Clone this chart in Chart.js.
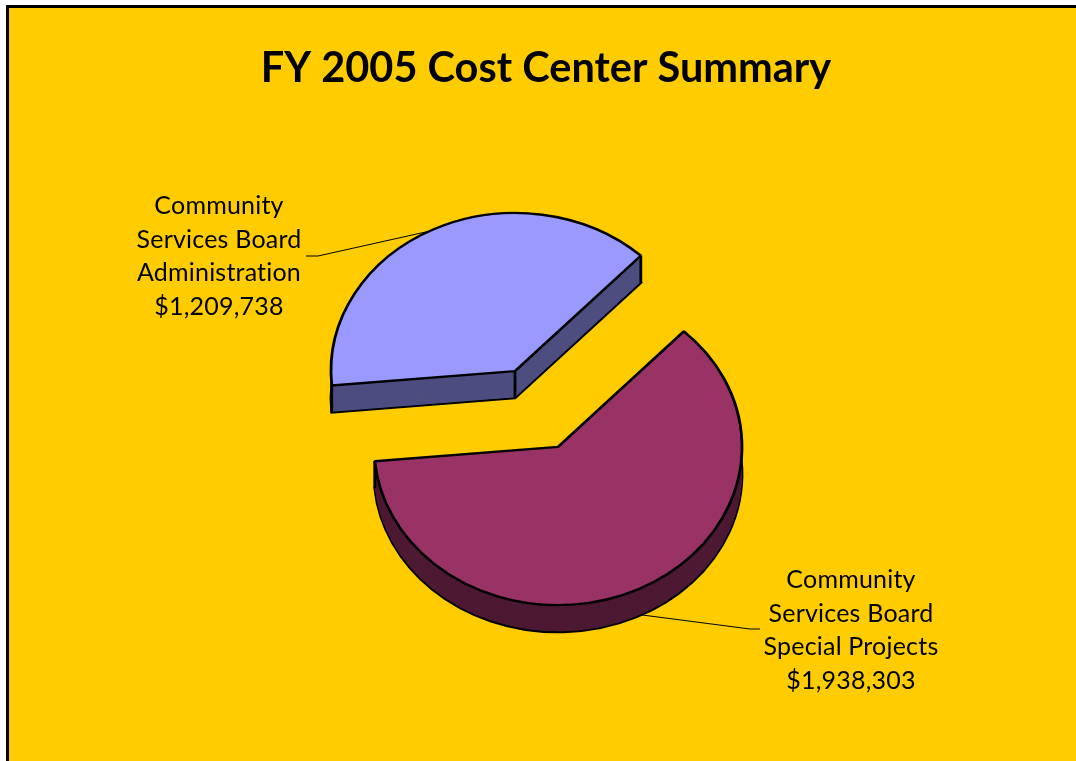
<!DOCTYPE html>
<html>
<head>
<meta charset="utf-8">
<style>
html,body{margin:0;padding:0;background:#fff;overflow:hidden}
#frame{position:absolute;left:6px;top:5px;right:0;bottom:0;background:#FFCC00;border-left:3px solid #000;border-top:3px solid #000}
#c{position:absolute;left:0;top:0}
</style>
<script src="https://cdn.jsdelivr.net/npm/chart.js@4"></script>
</head>
<body>
<div id="frame"></div>
<canvas id="c" width="1076" height="761"></canvas>
<script>
const chartTitle = 'FY 2005 Cost Center Summary';
const categories = ['Community Services Board Administration', 'Community Services Board Special Projects'];
const values = [1209738, 1938303];
const sliceColors = ['#9999FF', '#993366'];
const wallColors = ['#4D4D80', '#4D1933'];
const sliceOffsets = [98, 0];
const labelLines = [
  ['Community', 'Services Board', 'Administration', '$1,209,738'],
  ['Community', 'Services Board', 'Special Projects', '$1,938,303']
];
const labelX = [219, 851];
const labelBaseY = [214, 588];
const labelLineStep = 33.5;
const leaderAngles = [332.2, 153];
const leaderRoutes = [[[318, 256], [306, 256]], [[750, 629], [760, 629]]];

const SQUASH = 0.86, DEPTH = 27, SHIFT_X = 12, EDGE = 2.8;

function sector(ctx, a, dy) {
  ctx.beginPath();
  ctx.moveTo(a.x, a.y + dy);
  ctx.arc(a.x, a.y + dy, a.outerRadius, a.startAngle, a.endAngle);
  ctx.closePath();
}
function pieCentre(chart) {
  const A = chart.chartArea;
  return { x: (A.left + A.right) / 2, y: (A.top + A.bottom) / 2 };
}
const pie3d = {
  id: 'pie3d',
  afterDatasetsUpdate(chart) {
    chart.getDatasetMeta(0).data.forEach((a, i) => {
      const mid = (a.startAngle + a.endAngle) / 2;
      a.x += Math.cos(mid) * sliceOffsets[i];
      a.y += Math.sin(mid) * sliceOffsets[i];
    });
  },
  beforeDatasetsDraw(chart) {
    const ctx = chart.ctx, arcs = chart.getDatasetMeta(0).data, c = pieCentre(chart);
    ctx.save();
    ctx.translate(c.x + SHIFT_X, c.y);
    ctx.scale(1, SQUASH);
    ctx.translate(-c.x, -c.y);
    const d = DEPTH / SQUASH;
    arcs.forEach((a, i) => {
      ctx.lineJoin = 'miter';
      sector(ctx, a, d);
      ctx.fillStyle = wallColors[i];
      ctx.fill();
      ctx.lineWidth = EDGE;
      ctx.strokeStyle = '#000';
      ctx.stroke();
      for (let k = d - 1; k > 0; k--) {
        sector(ctx, a, k);
        ctx.fill();
      }
      ctx.beginPath();
      [[a.x, a.y],
       [a.x + Math.cos(a.startAngle) * a.outerRadius, a.y + Math.sin(a.startAngle) * a.outerRadius],
       [a.x + Math.cos(a.endAngle) * a.outerRadius, a.y + Math.sin(a.endAngle) * a.outerRadius]].forEach(pt => {
        ctx.moveTo(pt[0], pt[1]);
        ctx.lineTo(pt[0], pt[1] + d);
      });
      ctx.stroke();
    });
  },
  afterDatasetsDraw(chart) {
    const ctx = chart.ctx, arcs = chart.getDatasetMeta(0).data, c = pieCentre(chart);
    ctx.restore();
    ctx.save();
    ctx.strokeStyle = '#000';
    ctx.lineWidth = 1;
    arcs.forEach((a, i) => {
      const t = (leaderAngles[i] - 90) * Math.PI / 180;
      const ax = a.x + SHIFT_X + Math.cos(t) * a.outerRadius;
      const ay = c.y + (a.y - c.y + Math.sin(t) * a.outerRadius) * SQUASH + (i === 1 ? DEPTH : 0);
      ctx.beginPath();
      ctx.moveTo(ax, ay);
      leaderRoutes[i].forEach(pt => ctx.lineTo(pt[0], pt[1]));
      ctx.stroke();
    });
    ctx.fillStyle = '#000';
    ctx.textAlign = 'center';
    ctx.textBaseline = 'alphabetic';
    ctx.font = '25px Lato';
    ctx.letterSpacing = '0.2px';
    labelLines.forEach((lines, i) => {
      lines.forEach((line, j) => ctx.fillText(line, labelX[i], labelBaseY[i] + j * labelLineStep));
    });
    ctx.restore();
  }
};

new Chart(document.getElementById('c'), {
  type: 'pie',
  data: {
    labels: categories,
    datasets: [{
      data: values,
      backgroundColor: sliceColors,
      borderColor: '#000',
      borderWidth: EDGE,
      clip: false
    }]
  },
  options: {
    responsive: false,
    animation: false,
    rotation: 264.8,
    radius: 184,
    layout: { padding: { left: 16, right: 0, top: 0, bottom: 0 } },
    plugins: {
      legend: { display: false },
      tooltip: { enabled: false },
      title: {
        display: true,
        text: chartTitle,
        color: '#000',
        font: { family: 'Lato', size: 41.5, weight: 'bold', lineHeight: 1.2 },
        padding: { top: 44, bottom: 39 }
      }
    }
  },
  plugins: [pie3d]
});
</script>
</body>
</html>
